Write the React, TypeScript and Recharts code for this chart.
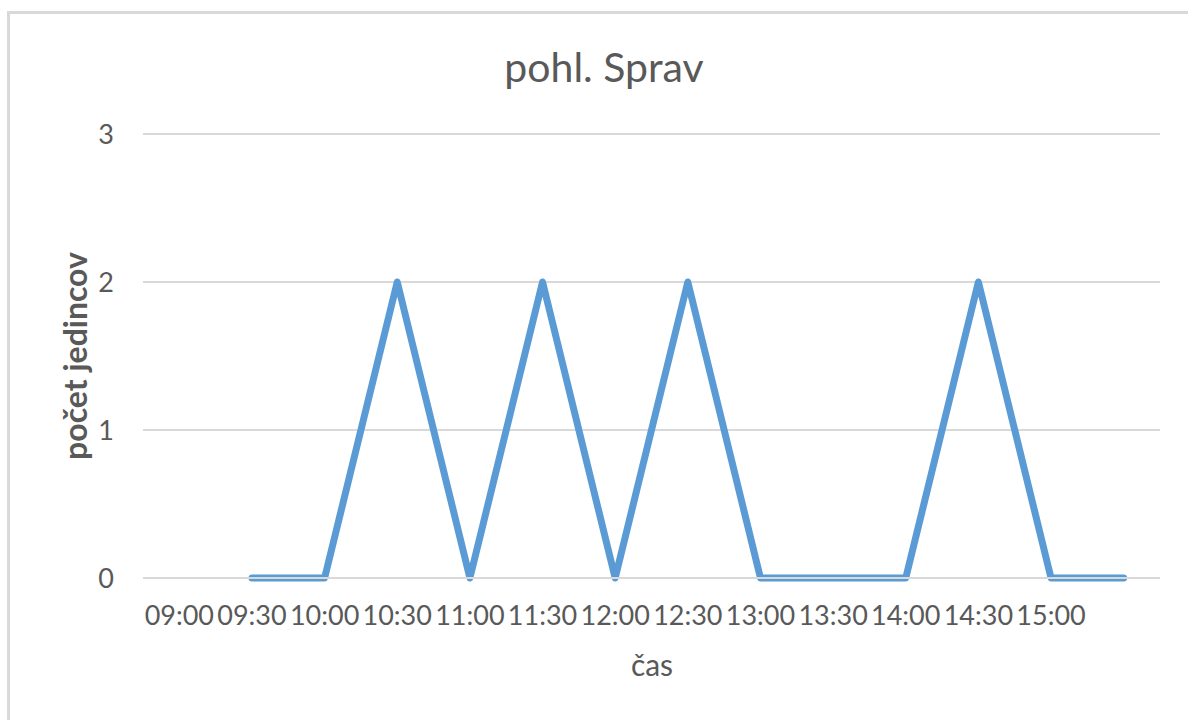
import { LineChart, Line, XAxis, YAxis, CartesianGrid } from "recharts";

const times = ["09:00", "09:30", "10:00", "10:30", "11:00", "11:30", "12:00", "12:30", "13:00", "13:30", "14:00", "14:30", "15:00", ""];
const counts: (number | null)[] = [null, 0, 0, 2, 0, 2, 0, 2, 0, 0, 0, 2, 0, 0];
const yTicks = [0, 1, 2, 3];

const data = times.map((t, i) => ({ time: t, count: counts[i] }));

const textColor = "#595959";
const font = "Lato, 'Open Sans', sans-serif";

export default function App() {
  return (
    <div style={{ position: "absolute", left: 0, top: 0, width: 1188, height: 720, background: "#fff", overflow: "hidden", fontFamily: font }}>
      <div
        style={{
          position: "absolute",
          left: 7,
          top: 11,
          width: 1300,
          height: 900,
          border: "3px solid #d9d9d9",
          boxSizing: "border-box",
        }}
      />
      <div
        style={{
          position: "absolute",
          left: 604,
          top: 66,
          transform: "translate(-50%, -50%)",
          fontSize: 41,
          color: textColor,
          whiteSpace: "nowrap",
        }}
      >
        pohl. Sprav
      </div>
      <div
        style={{
          position: "absolute",
          left: 74,
          top: 356,
          transform: "translate(-50%, -50%) rotate(-90deg)",
          fontSize: 32,
          fontWeight: 700,
          color: textColor,
          whiteSpace: "nowrap",
        }}
      >
        počet jedincov
      </div>
      <div
        style={{
          position: "absolute",
          left: 652,
          top: 664,
          transform: "translate(-50%, -50%)",
          fontSize: 30,
          color: textColor,
          whiteSpace: "nowrap",
        }}
      >
        čas
      </div>
      <div style={{ position: "absolute", left: 0, top: 0 }}>
        <LineChart width={1188} height={720} data={data} margin={{ top: 134, right: 28, left: 103, bottom: 102 }}>
          <CartesianGrid vertical={false} stroke="#d9d9d9" strokeWidth={2} />
          <XAxis
            dataKey="time"
            scale="band"
            interval={0}
            axisLine={{ stroke: "#d9d9d9", strokeWidth: 2 }}
            tickLine={false}
            tickSize={0}
            tickMargin={28}
            height={40}
            tick={{ fill: textColor, fontSize: 27, fontFamily: font }}
          />
          <YAxis
            domain={[0, 3]}
            ticks={yTicks}
            width={40}
            axisLine={false}
            tickLine={false}
            tickSize={0}
            tickMargin={29}
            tick={{ fill: textColor, fontSize: 27, fontFamily: font }}
          />
          <Line
            type="linear"
            dataKey="count"
            stroke="#5b9bd5"
            strokeWidth={7}
            strokeLinejoin="round"
            strokeLinecap="round"
            dot={false}
            activeDot={false}
            connectNulls={false}
            isAnimationActive={false}
          />
        </LineChart>
      </div>
    </div>
  );
}
